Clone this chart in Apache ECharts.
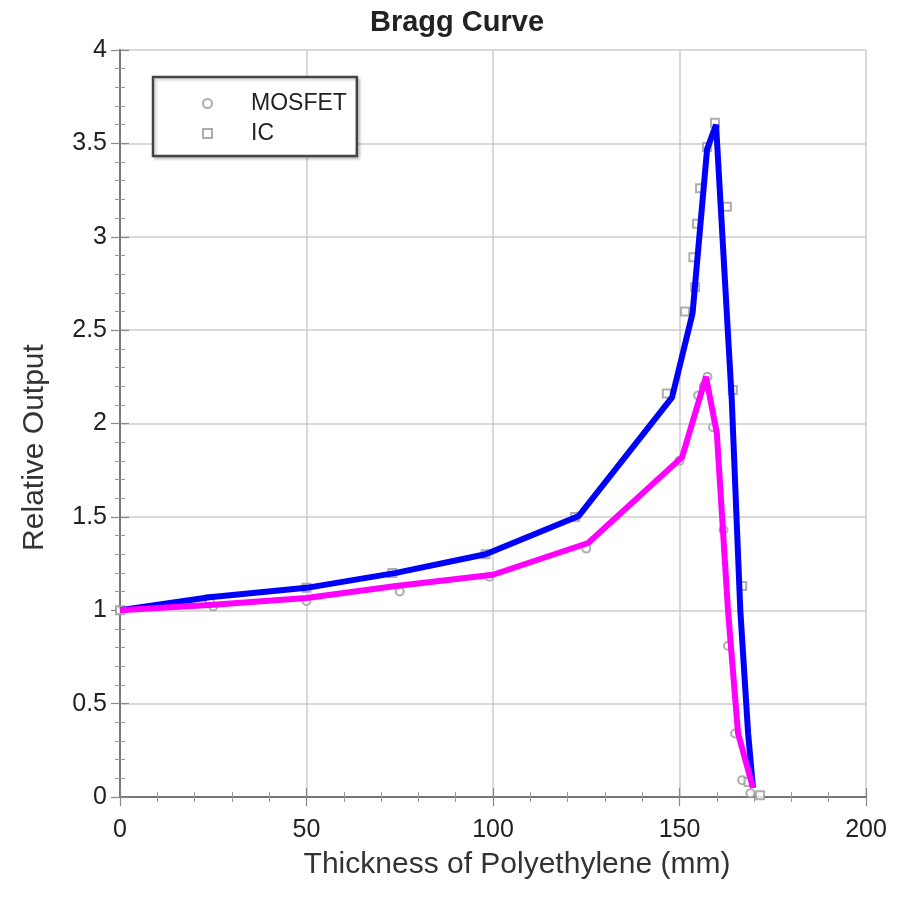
<!DOCTYPE html>
<html>
<head>
<meta charset="utf-8">
<title>Bragg Curve</title>
<script src="https://cdn.jsdelivr.net/npm/echarts@6/dist/echarts.min.js"></script>
<style>
  html, body { margin: 0; padding: 0; background: #fff; }
  #chart { width: 919px; height: 897px; }
</style>
</head>
<body>
<div id="chart"></div>
<script>
// fitted curves (thick lines)
var icLineX = [0, 24, 50, 74, 98, 123, 148, 153.5, 157.4, 159.8, 164, 166.3, 168.4, 169.7];
var icLineY = [1, 1.07, 1.12, 1.2, 1.3, 1.505, 2.14, 2.59, 3.47, 3.6, 2.13, 1.0, 0.34, 0.05];
var mosLineX = [0, 25, 50, 74, 100, 125.5, 150.7, 157.1, 160, 163, 165.7, 169.7];
var mosLineY = [1, 1.03, 1.066, 1.13, 1.19, 1.36, 1.82, 2.25, 1.95, 1.0, 0.34, 0.05];

// measured points (grey markers)
var mosfetX = [0, 25, 50, 75, 99, 125, 150, 155, 156.5, 157.5, 159, 161.8, 163, 164.9, 166.8, 169];
var mosfetY = [1, 1.02, 1.05, 1.1, 1.18, 1.33, 1.8, 2.15, 2.2, 2.25, 1.98, 1.43, 0.81, 0.34, 0.09, 0.02];
var icX = [0, 24, 50, 73, 98, 122, 146.6, 151.5, 153.7, 154.2, 154.7, 155.5, 157.4, 159.5, 162.7, 164.3, 166.8, 168.5, 171.6];
var icY = [1, 1.06, 1.12, 1.2, 1.3, 1.5, 2.16, 2.6, 2.89, 2.73, 3.07, 3.26, 3.48, 3.61, 3.16, 2.18, 1.13, 0.08, 0.01];

function pairs(xs, ys) {
    var out = [];
    for (var i = 0; i < xs.length; i++) out.push([xs[i], ys[i]]);
    return out;
}

var myChart = echarts.init(document.getElementById('chart'));
var labelFont = 'Liberation Sans, Arial, sans-serif';
var frameLine = { show: true, lineStyle: { color: '#777', width: 2 } };
// negative lengths so the ticks point into the plot
var majorTick = { show: true, inside: false, length: -9, lineStyle: { color: '#888', width: 1.2 } };
var minorTick = { show: true, splitNumber: 5, length: -5, lineStyle: { color: '#999' } };

var option = {
    backgroundColor: '#fff',
    title: {
        text: 'Bragg Curve',
        left: 452, top: 3, textAlign: 'center',
        textStyle: { fontFamily: labelFont, fontSize: 29, fontWeight: 'bold', color: '#222' }
    },
    legend: {
        orient: 'vertical',
        left: 153, top: 77,
        padding: [15, 10, 11, 49],
        itemWidth: 9, itemHeight: 9, itemGap: 7,
        backgroundColor: '#fff',
        borderColor: '#444', borderWidth: 2.5,
        shadowColor: 'rgba(0,0,0,0.2)', shadowBlur: 3, shadowOffsetX: 2, shadowOffsetY: 2,
        data: ['MOSFET', 'IC'],
        textStyle: { fontFamily: labelFont, fontSize: 23, color: '#222', padding: [0, 0, 0, 34] }
    },
    grid: { left: 120, right: 53, top: 50, bottom: 100 },
    xAxis: [{
        type: 'value', min: 0, max: 200, interval: 50,
        name: 'Thickness of Polyethylene (mm)', nameLocation: 'middle', nameGap: 53,
        nameTextStyle: { fontFamily: labelFont, fontSize: 30, color: '#333', padding: [0, 0, 0, 48] },
        axisLine: frameLine,
        axisTick: majorTick,
        minorTick: minorTick,
        axisLabel: { fontFamily: labelFont, fontSize: 25, color: '#222', margin: 21 },
        splitLine: { show: true, lineStyle: { color: '#ccc', width: 1.5 } }
    }, {
        type: 'value', min: 0, max: 200, interval: 50, position: 'top',
        axisLine: frameLine,
        axisTick: majorTick,
        minorTick: minorTick,
        axisLabel: { show: false },
        splitLine: { show: false }
    }],
    yAxis: [{
        type: 'value', min: 0, max: 4, interval: 0.5,
        name: 'Relative Output', nameLocation: 'middle', nameGap: 70,
        nameTextStyle: { fontFamily: labelFont, fontSize: 30, color: '#333', padding: [0, 48, 0, 0] },
        axisLine: frameLine,
        axisTick: majorTick,
        minorTick: minorTick,
        axisLabel: { fontFamily: labelFont, fontSize: 25, color: '#222', margin: 13 },
        splitLine: { show: true, lineStyle: { color: '#ccc', width: 1.5 } }
    }, {
        type: 'value', min: 0, max: 4, interval: 0.5, position: 'right',
        axisLine: frameLine,
        axisTick: majorTick,
        minorTick: minorTick,
        axisLabel: { show: false },
        splitLine: { show: false }
    }],
    series: [
        {
            name: 'MOSFET', type: 'scatter', symbol: 'emptyCircle', symbolSize: 8,
            itemStyle: { color: '#999', borderColor: '#999', borderWidth: 1.2 },
            data: pairs(mosfetX, mosfetY), z: 2
        },
        {
            name: 'IC', type: 'scatter', symbol: 'emptyRect', symbolSize: 8,
            itemStyle: { color: '#999', borderColor: '#999', borderWidth: 1.2 },
            data: pairs(icX, icY), z: 2
        },
        {
            name: 'IC fit', type: 'line', showSymbol: false, symbol: 'none',
            lineStyle: { color: '#0000ff', width: 6 },
            data: pairs(icLineX, icLineY), z: 4
        },
        {
            name: 'MOSFET fit', type: 'line', showSymbol: false, symbol: 'none',
            lineStyle: { color: '#ff00ff', width: 6 },
            data: pairs(mosLineX, mosLineY), z: 5
        }
    ]
};

myChart.setOption(option);
</script>
</body>
</html>
